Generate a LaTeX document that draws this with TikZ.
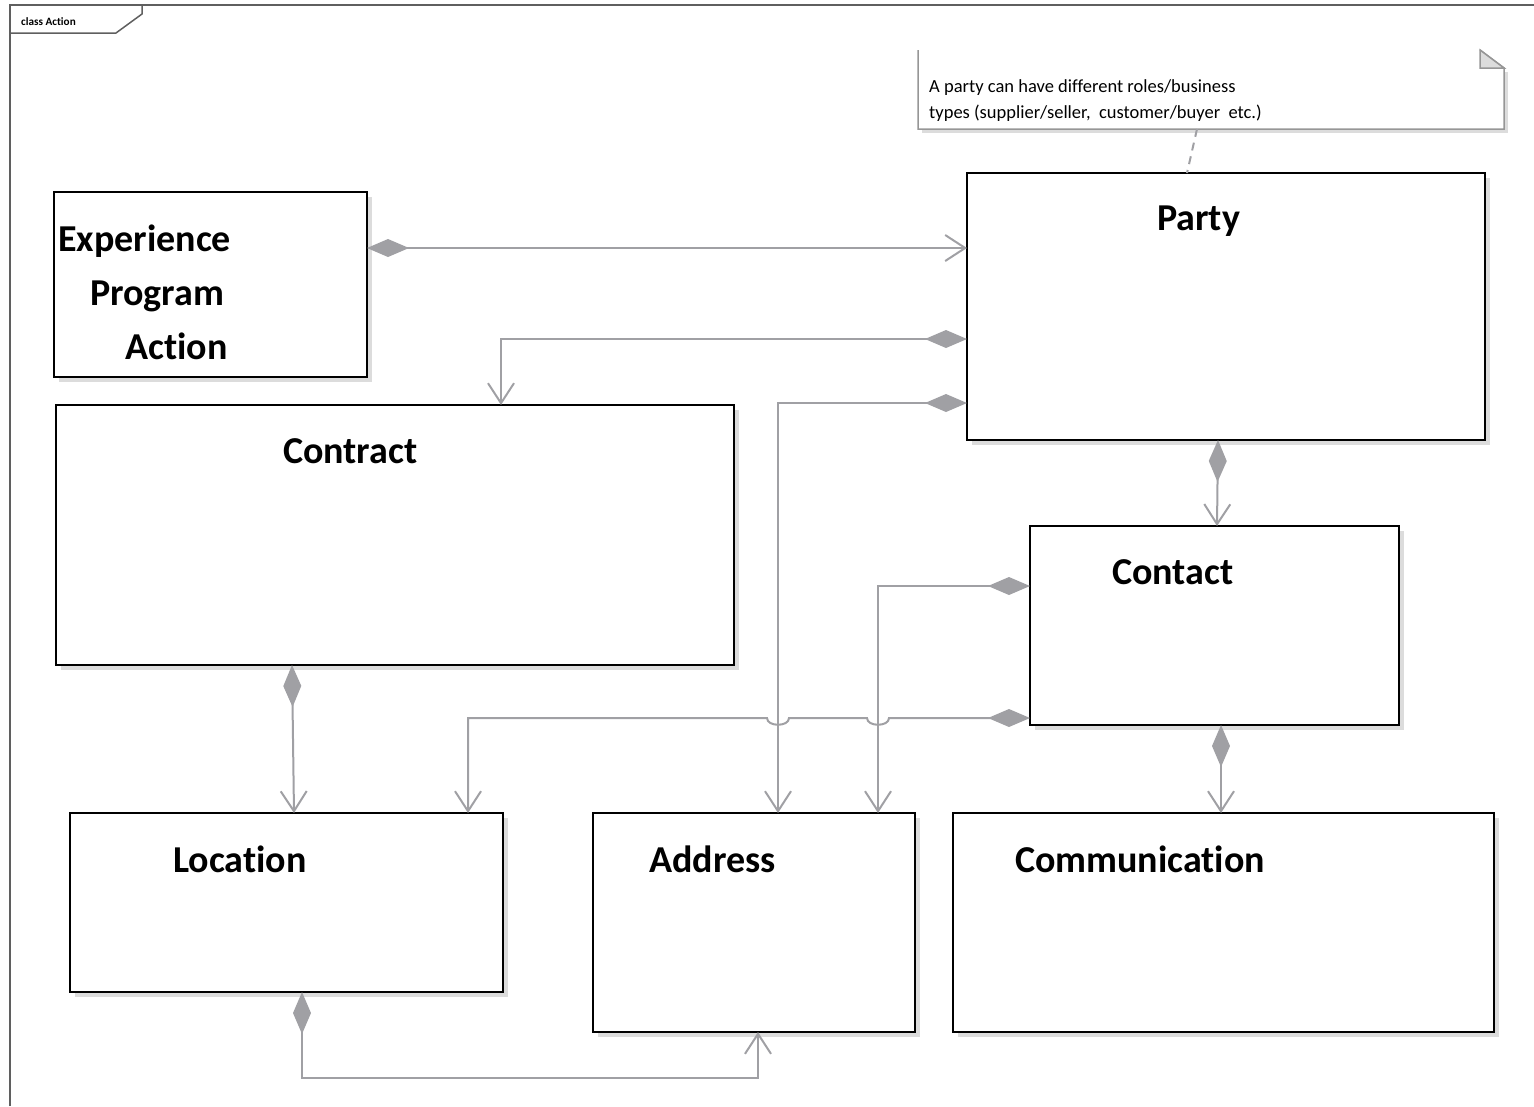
\documentclass[tikz,border=0pt]{standalone}
\usepackage{fontspec}
\setmainfont{Carlito}[Ligatures={NoCommon,NoContextual}]
\usetikzlibrary{arrows.meta}
\definecolor{conn}{RGB}{160,160,164}
\definecolor{shadowc}{RGB}{220,220,220}
\definecolor{framec}{RGB}{95,95,95}
\definecolor{notec}{RGB}{150,150,150}
\tikzset{
  box/.style={draw=black, line width=2.4pt, fill=white, inner sep=0pt, outer sep=0pt},
  title/.style={inner sep=0pt, anchor=base west, font=\fontsize{38}{44}\selectfont\bfseries},
  notetext/.style={inner sep=0pt, anchor=base west, font=\fontsize{18.5}{22}\selectfont},
  comp/.style={draw=conn, line width=2pt, {Diamond[length=42pt,width=18pt]}-{Straight Barb[length=20pt,width=26pt]}},
}
\newcommand{\umlbox}[5]{%
  \fill[shadowc] (#2+5,#3+5) rectangle (#4+5,#5+5);
  \node[box, minimum width={#4pt-#2pt}, minimum height={#5pt-#3pt}, anchor=north west] (#1) at (#2,#3) {};
}
\begin{document}
\begin{tikzpicture}[x=1pt,y=-1pt]
\useasboundingbox (0,0) rectangle (1534,1106);
% frame
\draw[framec, line width=1.5pt] (10,1106) -- (10,5) -- (1534,5);
\draw[framec, line width=1.5pt] (10,33) -- (116,33) -- (142,14) -- (142,5);
\node[inner sep=0pt, anchor=base west, font=\fontsize{11.2}{13}\selectfont\bfseries] (ftitle) at (21,25) {class Act\kern0pt ion};
% note
\fill[shadowc] (922,129) rectangle (1508,133);
\fill[shadowc] (1504,72) rectangle (1508,133);
\node[inner sep=0pt, outer sep=0pt, minimum width=586pt, minimum height=79pt, anchor=north west] (note) at (918,50) {};
\draw[notec, line width=1.5pt] (918,50) -- (918,129) -- (1504,129) -- (1504,68) -- (1480,50);
\filldraw[fill=shadowc, draw=notec, line width=1.5pt] (1480,50) -- (1480,68) -- (1504,68) -- cycle;
\node[notetext] (n1) at (929,92) {A party can have dif\kern0pt ferent roles/business};
\node[notetext] (n2) at (929,118) {types (supplier/seller, \ customer/buyer \ etc.)};
% boxes
\umlbox{epa}{54}{192}{367}{377}
\umlbox{party}{967}{173}{1485}{440}
\umlbox{contract}{56}{405}{734}{665}
\umlbox{contact}{1030}{526}{1399}{725}
\umlbox{location}{70}{813}{503}{992}
\umlbox{address}{593}{813}{915}{1032}
\umlbox{comm}{953}{813}{1494}{1032}
% titles
\node[title] (t1) at (58,251) {Experience};
\node[title] (t2) at (90,305) {Program};
\node[title] (t3) at (125,359) {Act\kern0pt ion};
\node[title] (tparty) at (1157,230) {Party};
\node[title] (tcontract) at (283,463) {Contract};
\node[title] (tcontact) at (1112,584) {Contact};
\node[title] (tloc) at (173,872) {Locat\kern0pt ion};
\node[title] (taddr) at (649,872) {Address};
\node[title] (tcomm) at (1015,872) {Communicat\kern0pt ion};
% note link
\draw[conn, line width=2pt, dash pattern=on 8pt off 6pt] (note.south -| 1197,0) -- (party.north -| 1187,0);
% connectors
\draw[comp] (epa.east |- 0,248) -- (party.west |- 0,248);
\draw[comp] (party.west |- 0,339) -| (contract.north -| 501,0);
\draw[comp] (party.west |- 0,403) -| (address.north -| 778,0);
\draw[comp] (party.south -| 1218,0) -- (contact.north -| 1217,0);
\draw[comp] (contact.west |- 0,586) -| (address.north -| 878,0);
\draw[comp] (contact.west |- 0,718) -- (889,718) .. controls (889,727) and (867,727) .. (867,718)
   -- (789,718) .. controls (789,727) and (767,727) .. (767,718) -| (location.north -| 468,0);
\draw[comp] (contract.south -| 292,0) -- (location.north -| 294,0);
\draw[comp] (contact.south -| 1221,0) -- (comm.north -| 1221,0);
\draw[comp] (location.south -| 302,0) |- (758,1078) -- (address.south -| 758,0);
\end{tikzpicture}
\end{document}
